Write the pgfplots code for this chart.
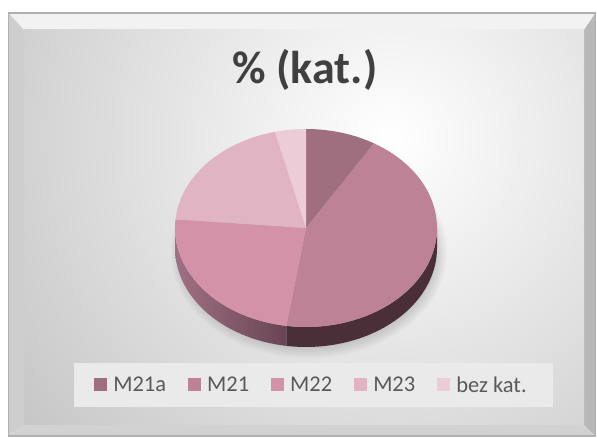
\documentclass[border=0pt]{standalone}
\usepackage{pgfplots}
\pgfplotsset{compat=1.18}
\usepackage{fontspec}
\setmainfont{Carlito}
\definecolor{cA}{HTML}{9F6F7F}
\definecolor{cB}{HTML}{BE8296}
\definecolor{cC}{HTML}{D492A8}
\definecolor{cD}{HTML}{E0B4C3}
\definecolor{cE}{HTML}{ECCDD7}
\definecolor{sB}{HTML}{4A2F39}
\definecolor{sCl}{HTML}{A07083}
\definecolor{sCr}{HTML}{684553}
\definecolor{txt}{HTML}{595959}
\definecolor{ttl}{HTML}{404040}
% data (percent)
\def\vA{8.7}\def\vB{43.7}\def\vC{24.0}\def\vD{19.8}\def\vE{3.8}
\pgfmathsetmacro\aA{0}
\pgfmathsetmacro\aB{3.6*\vA}
\pgfmathsetmacro\aC{\aB+3.6*\vB}
\pgfmathsetmacro\aD{\aC+3.6*\vC}
\pgfmathsetmacro\aE{\aD+3.6*\vD}
\pgfmathsetmacro\aF{\aE+3.6*\vE}
\begin{document}
\begin{tikzpicture}
\begin{axis}[
  width=597pt, height=438pt, scale only axis,
  xmin=0, xmax=597, ymin=0, ymax=438,
  hide axis, clip=false,
  legend columns=5,
  legend style={at={(0.5218,0.121)}, anchor=center, draw=none, fill=none,
    text=txt, font=\fontsize{22.5}{27}\selectfont,
    /tikz/every odd column/.append style={column sep=4pt},
    /tikz/every even column/.append style={column sep=20pt}},
  legend image code/.code={\fill[#1] (0pt,-6.5pt) rectangle (13pt,6.5pt);},
]
% background and frame
\fill[white] (axis cs:0,0) rectangle (axis cs:597,438);
\fill[fill={rgb,255:red,242;green,242;blue,242}] (axis cs:8.5,425) -- (axis cs:595.5,425) -- (axis cs:584,408) -- (axis cs:24,408) -- cycle;
\fill[fill={rgb,255:red,206;green,206;blue,206}] (axis cs:8.5,2) -- (axis cs:8.5,425) -- (axis cs:24,408) -- (axis cs:24,13) -- cycle;
\fill[fill={rgb,255:red,210;green,210;blue,210}] (axis cs:8.5,2) -- (axis cs:595.5,2) -- (axis cs:584,13) -- (axis cs:24,13) -- cycle;
\fill[fill={rgb,255:red,184;green,184;blue,184}] (axis cs:595.5,2) -- (axis cs:595.5,425) -- (axis cs:584,408) -- (axis cs:584,13) -- cycle;
\draw[draw={rgb,255:red,176;green,176;blue,176}, line width=1.2pt] (axis cs:8.5,2) rectangle (axis cs:595.5,425);
\begin{scope}
\clip (axis cs:24,13) rectangle (axis cs:584,408);
\shade[inner color=white, outer color={rgb,255:red,198;green,198;blue,198}] (axis cs:390,300) circle [radius=470];
\end{scope}
% legend box
\fill[fill={rgb,255:red,234;green,234;blue,234}] (axis cs:74,31) rectangle (axis cs:553,75);
% title
\node[text=ttl, font=\fontsize{46}{50}\selectfont\bfseries] at (axis cs:305,368) {\% (kat.)};
% shadow
\fill[black, opacity=0.022] (axis cs:309,186) ellipse [x radius=124, y radius=92];
\fill[black, opacity=0.022] (axis cs:309,186) ellipse [x radius=126, y radius=94];
\fill[black, opacity=0.022] (axis cs:309,186) ellipse [x radius=128, y radius=96];
\fill[black, opacity=0.022] (axis cs:309,186) ellipse [x radius=130, y radius=98];
\fill[black, opacity=0.022] (axis cs:309,186) ellipse [x radius=132, y radius=100];
\fill[black, opacity=0.022] (axis cs:309,186) ellipse [x radius=134, y radius=102];
\fill[black, opacity=0.022] (axis cs:309,186) ellipse [x radius=136, y radius=104];
\fill[black, opacity=0.022] (axis cs:309,186) ellipse [x radius=138, y radius=106];
% sides (visible front)
\addplot[fill=sB, draw=none, forget plot,
  samples at={0,0.025,...,0.975,0.9999,1,1.025,...,2}]
  ({306+131*sin((x<1)*(90+x*(\aC-90))+(x>=1)*(\aC-(x-1)*(\aC-90)))},
   {210+99*cos((x<1)*(90+x*(\aC-90))+(x>=1)*(\aC-(x-1)*(\aC-90)))-20*(x>=1)}) -- cycle;
\addplot[left color=sCl, right color=sCr, draw=none, forget plot,
  samples at={0,0.025,...,0.975,0.9999,1,1.025,...,2}]
  ({306+131*sin((x<1)*(\aC+x*(270-\aC))+(x>=1)*(270-(x-1)*(270-\aC)))},
   {210+99*cos((x<1)*(\aC+x*(270-\aC))+(x>=1)*(270-(x-1)*(270-\aC)))-20*(x>=1)}) -- cycle;
% top faces
\addplot[fill=cA, draw=none, domain=\aA:\aB, samples=30] ({306+131*sin(x)},{210+99*cos(x)}) -- (axis cs:306,210) -- cycle;
\addlegendentry{M21a}
\addplot[fill=cB, draw=none, domain=\aB:\aC, samples=80] ({306+131*sin(x)},{210+99*cos(x)}) -- (axis cs:306,210) -- cycle;
\addlegendentry{M21}
\addplot[fill=cC, draw=none, domain=\aC:\aD, samples=50] ({306+131*sin(x)},{210+99*cos(x)}) -- (axis cs:306,210) -- cycle;
\addlegendentry{M22}
\addplot[fill=cD, draw=none, domain=\aD:\aE, samples=40] ({306+131*sin(x)},{210+99*cos(x)}) -- (axis cs:306,210) -- cycle;
\addlegendentry{M23}
\addplot[fill=cE, draw=none, domain=\aE:\aF, samples=15] ({306+131*sin(x)},{210+99*cos(x)}) -- (axis cs:306,210) -- cycle;
\addlegendentry{bez kat.}
\end{axis}
\end{tikzpicture}
\end{document}
